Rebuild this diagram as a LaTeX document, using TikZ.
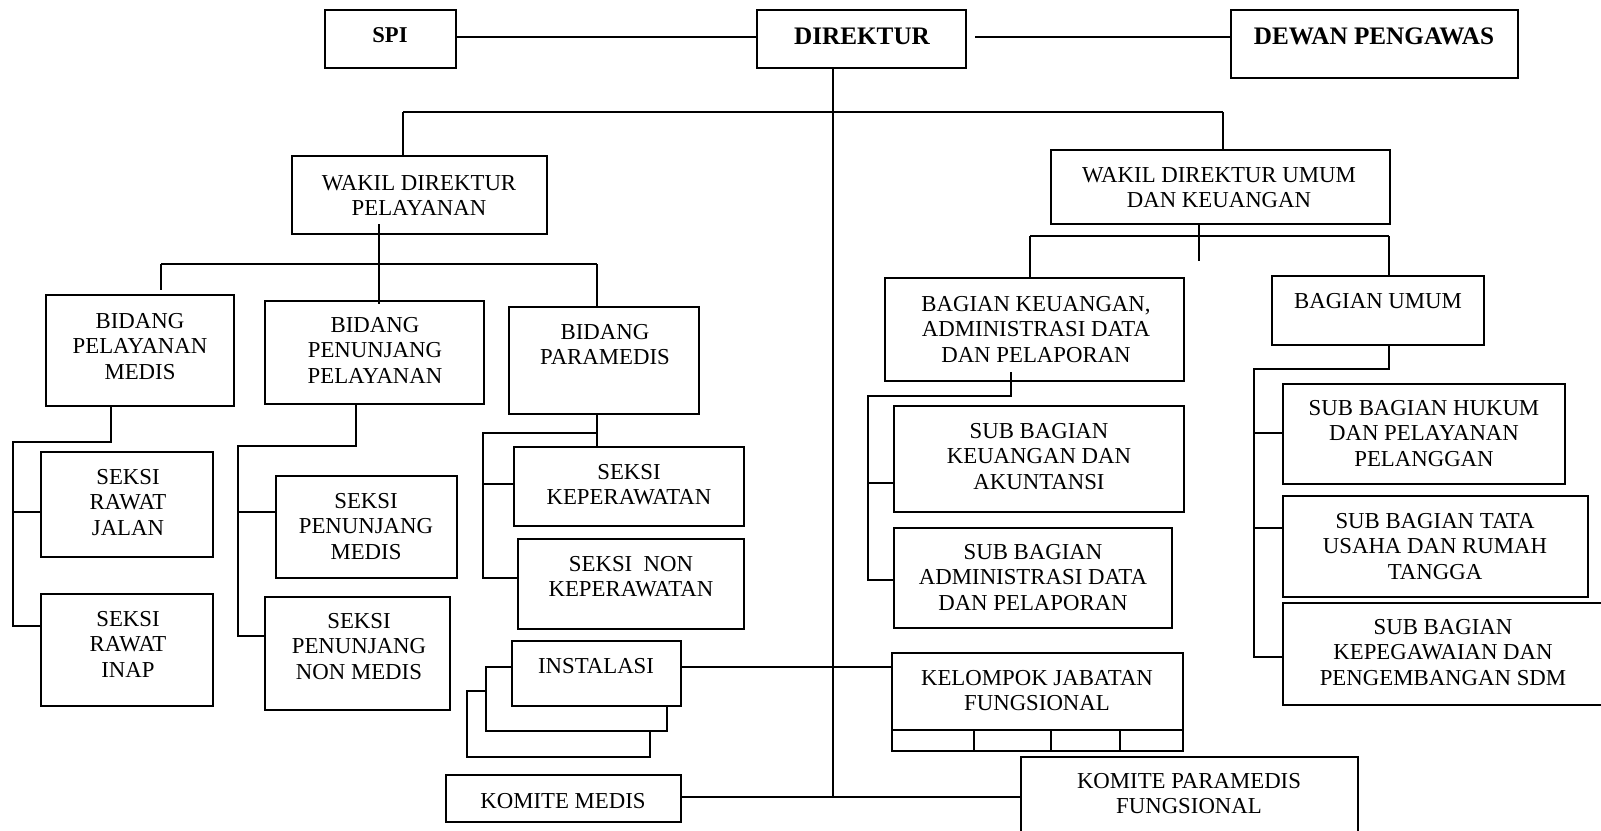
\documentclass[tikz,border=0pt]{standalone}
\usepackage{fontspec}
\setmainfont{Liberation Serif}
\usetikzlibrary{fit}
\begin{document}
\begin{tikzpicture}[x=0.5pt,y=-0.5pt,line width=1pt,
  box/.style={draw,inner sep=0pt,fit={#1}},
  txt/.style={anchor=north,inner sep=0pt,align=center,font=\fontsize{11.4}{12.75}\selectfont},
  btxt/.style={anchor=north,inner sep=0pt,align=center,font=\fontsize{11.3}{13}\selectfont\bfseries},
  bigtxt/.style={anchor=north,inner sep=0pt,align=center,font=\fontsize{12.6}{14}\selectfont\bfseries}]
\useasboundingbox (0,0) rectangle (1601,830);
\clip (0,0) rectangle (1601,830);

% ---------- top row ----------
\node[box={(325,10) (456,68)}] (spi) {};
\node[btxt] (spi-t) at (390,27) {SPI};
\node[box={(757,10) (966,68)}] (dir) {};
\node[bigtxt] (dir-t) at (862,27) {DIREKTUR};
\node[box={(1231,10) (1518,78)}] (dewan) {};
\node[bigtxt] (dewan-t) at (1374,27) {DEWAN PENGAWAS};

% ---------- deputies ----------
\node[box={(292,156) (547,234)}] (wdp) {};
\node[txt] (wdp-t) at (419,174) {WAKIL DIREKTUR\\PELAYANAN};
\node[box={(1051,150) (1390,224)}] (wdu) {};
\node[txt] (wdu-t) at (1219,166) {WAKIL DIREKTUR UMUM\\DAN KEUANGAN};

% ---------- bidang ----------
\node[box={(46,295) (234,406)}] (bpm) {};
\node[txt] (bpm-t) at (140,312) {BIDANG\\PELAYANAN\\MEDIS};
\node[box={(265,301) (484,404)}] (bpp) {};
\node[txt] (bpp-t) at (375,316) {BIDANG\\PENUNJANG\\PELAYANAN};
\node[box={(509,307) (699,414)}] (bpar) {};
\node[txt] (bpar-t) at (605,323) {BIDANG\\PARAMEDIS};

% ---------- bagian ----------
\node[box={(885,278) (1184,381)}] (bk) {};
\node[txt] (bk-t) at (1036,295) {BAGIAN KEUANGAN,\\ADMINISTRASI DATA\\DAN PELAPORAN};
\node[box={(1272,276) (1484,345)}] (bu) {};
\node[txt] (bu-t) at (1378,292) {BAGIAN UMUM};

% ---------- seksi ----------
\node[box={(41,452) (213,557)}] (srj) {};
\node[txt] (srj-t) at (128,468) {SEKSI\\RAWAT\\JALAN};
\node[box={(41,594) (213,706)}] (sri) {};
\node[txt] (sri-t) at (128,610) {SEKSI\\RAWAT\\INAP};
\node[box={(276,476) (457,578)}] (spm) {};
\node[txt] (spm-t) at (366,492) {SEKSI\\PENUNJANG\\MEDIS};
\node[box={(265,597) (450,710)}] (spnm) {};
\node[txt] (spnm-t) at (359,612) {SEKSI\\PENUNJANG\\NON MEDIS};
\node[box={(514,447) (744,526)}] (skep) {};
\node[txt] (skep-t) at (629,463) {SEKSI\\KEPERAWATAN};
\node[box={(518,539) (744,629)}] (snk) {};
\node[txt] (snk-t) at (631,555) {SEKSI\ \ NON\\KEPERAWATAN};

% ---------- instalasi (stacked) ----------
\node[box={(467,691) (650,757)}] (inst3) {};
\node[box={(486,667) (667,731)},fill=white] (inst2) {};
\node[box={(512,641) (681,706)},fill=white] (inst) {};
\node[txt] (inst-t) at (596,657) {INSTALASI};

\node[box={(446,775) (681,822)}] (km) {};
\node[txt] (km-t) at (563,792) {KOMITE MEDIS};

% ---------- sub bagian ----------
\node[box={(894,406) (1184,512)}] (sbk) {};
\node[txt] (sbk-t) at (1039,422) {SUB BAGIAN\\KEUANGAN DAN\\AKUNTANSI};
\node[box={(894,528) (1172,628)}] (sba) {};
\node[txt] (sba-t) at (1033,543) {SUB BAGIAN\\ADMINISTRASI DATA\\DAN PELAPORAN};
\node[box={(1283,384) (1565,484)}] (sbh) {};
\node[txt] (sbh-t) at (1424,399) {SUB BAGIAN HUKUM\\DAN PELAYANAN\\PELANGGAN};
\node[box={(1283,496) (1588,597)}] (sbt) {};
\node[txt] (sbt-t) at (1435,512) {SUB BAGIAN TATA\\USAHA DAN RUMAH\\TANGGA};
\node[box={(1283,603) (1630,705)}] (sbp) {};
\node[txt] (sbp-t) at (1443,618) {SUB BAGIAN\\KEPEGAWAIAN DAN\\PENGEMBANGAN SDM};

% ---------- kelompok jabatan fungsional ----------
\node[box={(892,653) (1183,751)}] (kjf) {};
\node[txt] (kjf-t) at (1037,669) {KELOMPOK JABATAN\\FUNGSIONAL};
\coordinate (kjfL) at (892,730);
\coordinate (kjfR) at (1183,730);
\draw (kjfL) -- (kjfR);
\foreach \cx in {974,1051,1120} \draw (\cx,730) -- (\cx,751);

\node[box={(1021,757) (1358,870)}] (kpf) {};
\node[txt] (kpf-t) at (1189,772) {KOMITE PARAMEDIS\\FUNGSIONAL};

% ---------- connectors ----------
\coordinate (dd0) at (975,37);
\coordinate (mainBot) at (833,797);
\coordinate (busL) at (403,112);
\coordinate (busR) at (1223,112);
\draw (spi.east |- dd0) -- (dir.west |- dd0);
\draw (dd0) -- (dewan.west |- dd0);
\draw (dir.south -| mainBot) -- (mainBot);
\draw (busL) -- (busR);
\draw (busL) -- (wdp.north -| busL);
\draw (busR) -- (wdu.north -| busR);

% wakil direktur pelayanan
\coordinate (wp1) at (379,224);
\coordinate (wp2) at (379,304);
\coordinate (wpL) at (161,264);
\coordinate (wpR) at (597,264);
\coordinate (wpLe) at (161,290);
\draw (wp1) -- (wp2);
\draw (wpL) -- (wpR);
\draw (wpL) -- (wpLe);
\draw (wpR) -- (bpar.north -| wpR);

% bidang pelayanan medis
\coordinate (a1) at (111,442);
\coordinate (a2) at (13,442);
\coordinate (a3) at (13,512);
\coordinate (a4) at (13,626);
\draw (bpm.south -| a1) -- (a1) -- (a2) -- (a4) -- (sri.west |- a4);
\draw (a3) -- (srj.west |- a3);

% bidang penunjang pelayanan
\coordinate (b1) at (356,446);
\coordinate (b2) at (238,446);
\coordinate (b3) at (238,512);
\coordinate (b4) at (238,636);
\draw (bpp.south -| b1) -- (b1) -- (b2) -- (b4) -- (spnm.west |- b4);
\draw (b3) -- (spm.west |- b3);

% bidang paramedis
\coordinate (c0) at (597,433);
\coordinate (c1) at (483,433);
\coordinate (c2) at (483,484);
\coordinate (c3) at (483,578);
\draw (bpar.south -| c0) -- (skep.north -| c0);
\draw (c0) -- (c1) -- (c3) -- (snk.west |- c3);
\draw (c2) -- (skep.west |- c2);

% wakil direktur umum
\coordinate (u1) at (1199,261);
\coordinate (uL) at (1030,236);
\coordinate (uR) at (1389,236);
\draw (wdu.south -| u1) -- (u1);
\draw (uL) -- (uR);
\draw (uL) -- (bk.north -| uL);
\draw (uR) -- (bu.north -| uR);

% bagian keuangan
\coordinate (k0) at (1011,372);
\coordinate (k1) at (1011,396);
\coordinate (k2) at (868,396);
\coordinate (k3) at (868,483);
\coordinate (k4) at (868,580);
\draw (k0) -- (k1) -- (k2) -- (k4) -- (sba.west |- k4);
\draw (k3) -- (sbk.west |- k3);

% bagian umum
\coordinate (m1) at (1389,369);
\coordinate (m2) at (1254,369);
\coordinate (m3) at (1254,433);
\coordinate (m4) at (1254,528);
\coordinate (m5) at (1254,657);
\draw (bu.south -| m1) -- (m1) -- (m2) -- (m5) -- (sbp.west |- m5);
\draw (m3) -- (sbh.west |- m3);
\draw (m4) -- (sbt.west |- m4);

% instalasi and komite medis
\coordinate (i1) at (681,667);
\draw (inst.east |- i1) -- (kjf.west |- i1);
\coordinate (km1) at (681,797);
\draw (km.east |- km1) -- (kpf.west |- km1);
\end{tikzpicture}
\end{document}
